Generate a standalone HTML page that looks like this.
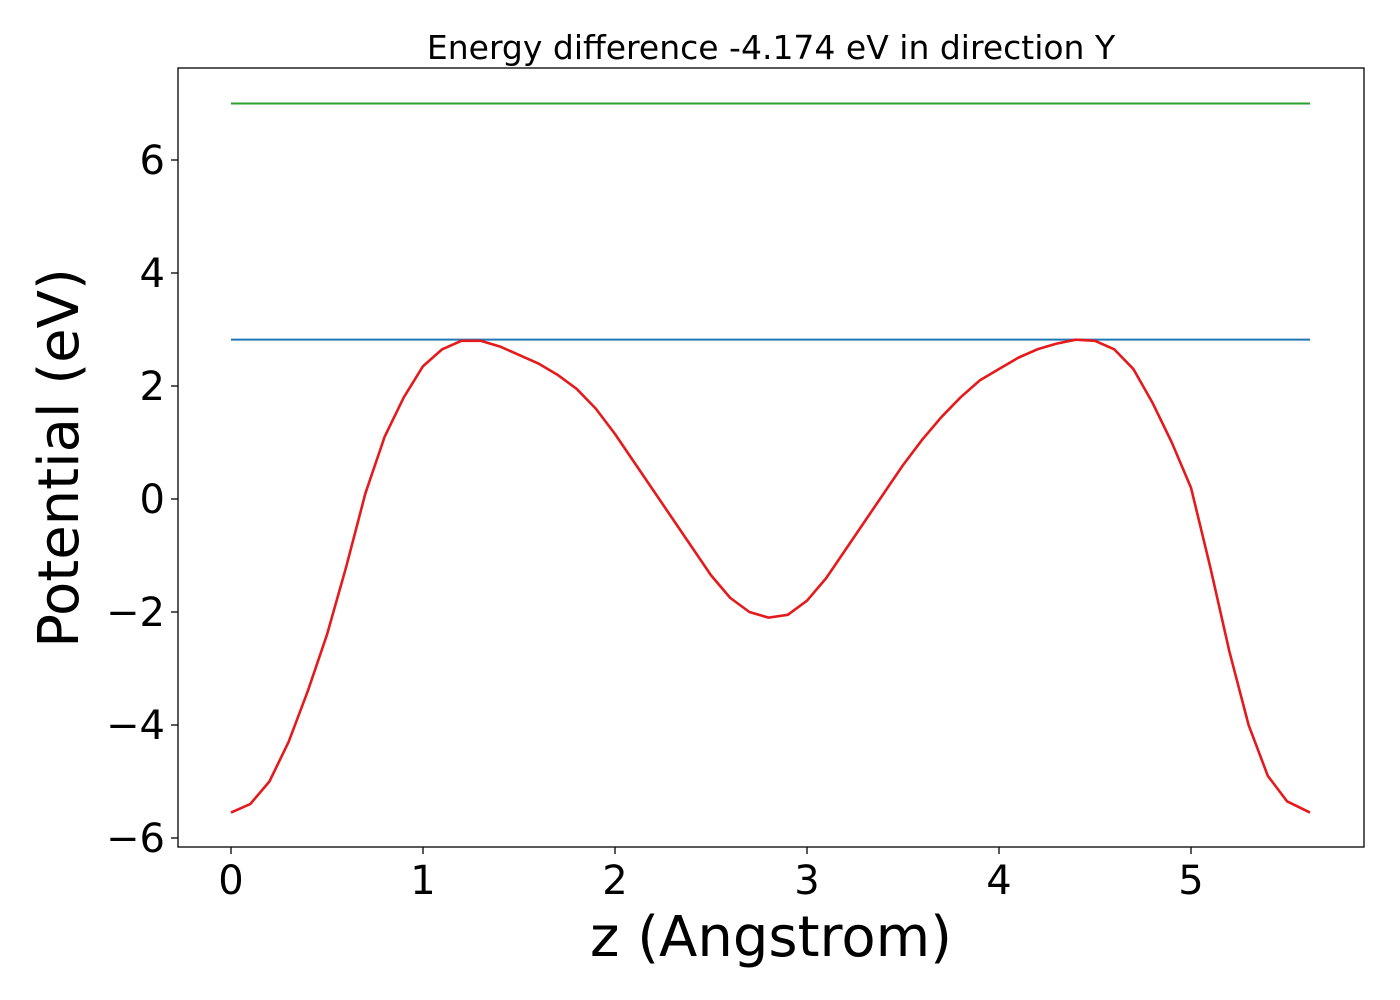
<!DOCTYPE html>
<html><head><meta charset="utf-8"><style>
html,body{margin:0;padding:0;background:#fff;}
svg{display:block;font-family:"DejaVu Sans","Liberation Sans",sans-serif;}
</style></head><body>
<svg id="chart" width="1400" height="1000" viewBox="0 0 1400 1000">
<rect width="1400" height="1000" fill="#fff"/>
<text x="771" y="59" font-size="33" text-anchor="middle">Energy difference -4.174 eV in direction Y</text>
<g id="plot"></g>
<rect x="178" y="68" width="1186" height="779" fill="none" stroke="#000" stroke-width="1.3"/>
<text x="771" y="956" font-size="56" text-anchor="middle">z (Angstrom)</text>
<text transform="translate(78,458) rotate(-90)" font-size="56" text-anchor="middle">Potential (eV)</text>
</svg>
<script>
const xTicks=[0,1,2,3,4,5];
const yTicks=[-6,-4,-2,0,2,4,6];
const zValues=[0,0.1,0.2,0.3,0.4,0.5,0.6,0.7,0.8,0.9,1.0,1.1,1.2,1.3,1.4,1.5,1.6,1.7,1.8,1.9,2.0,2.1,2.2,2.3,2.4,2.5,2.6,2.7,2.8,2.9,3.0,3.1,3.2,3.3,3.4,3.5,3.6,3.7,3.8,3.9,4.0,4.1,4.2,4.3,4.4,4.5,4.6,4.7,4.8,4.9,5.0,5.1,5.2,5.3,5.4,5.5,5.62];
const potential=[-5.55,-5.4,-5.0,-4.3,-3.4,-2.4,-1.2,0.1,1.1,1.8,2.35,2.65,2.8,2.8,2.7,2.55,2.4,2.2,1.95,1.6,1.15,0.65,0.15,-0.35,-0.85,-1.35,-1.75,-2.0,-2.1,-2.05,-1.8,-1.4,-0.9,-0.4,0.1,0.6,1.05,1.45,1.8,2.1,2.3,2.5,2.65,2.75,2.82,2.8,2.65,2.3,1.7,1.0,0.2,-1.2,-2.7,-4.0,-4.9,-5.35,-5.55];
const vacuumLevel=[7.0];
const barrierLevel=[2.82];
const NS='http://www.w3.org/2000/svg';
const X=v=>231+v*192, Y=v=>499-v*56.5;
const g=document.getElementById('plot');
function mk(t,a){const e=document.createElementNS(NS,t);for(const k in a)e.setAttribute(k,a[k]);g.appendChild(e);return e;}
xTicks.forEach(t=>{
  const l=mk('line',{x1:X(t),x2:X(t),y1:847,y2:854,stroke:'#000','stroke-width':1.3});
  
  
  const s=mk('text',{x:X(t),y:894,'font-size':40,'text-anchor':'middle'});
  s.textContent=String(t);
  
  
});
yTicks.forEach(t=>{
  const l=mk('line',{x1:171,x2:178,y1:Y(t),y2:Y(t),stroke:'#000','stroke-width':1.3});
  
  
  const s=mk('text',{x:165,y:Y(t)+14,'font-size':40,'text-anchor':'end'});
  s.textContent=(t<0?'\u2212':'')+Math.abs(t);
  
  
});
const x0=X(zValues[0]), x1=X(zValues[zValues.length-1]);
const gl=mk('line',{x1:x0,x2:x1,y1:Y(vacuumLevel[0]),y2:Y(vacuumLevel[0]),stroke:'#2ca02c','stroke-width':2});


const bl=mk('line',{x1:x0,x2:x1,y1:Y(barrierLevel[0]),y2:Y(barrierLevel[0]),stroke:'#1f77b4','stroke-width':2});


const pl=mk('polyline',{points:zValues.map((z,i)=>X(z)+','+Y(potential[i])).join(' '),fill:'none',stroke:'#e41a1c','stroke-width':2.6,'stroke-linejoin':'round'});


</script>
</body></html>
